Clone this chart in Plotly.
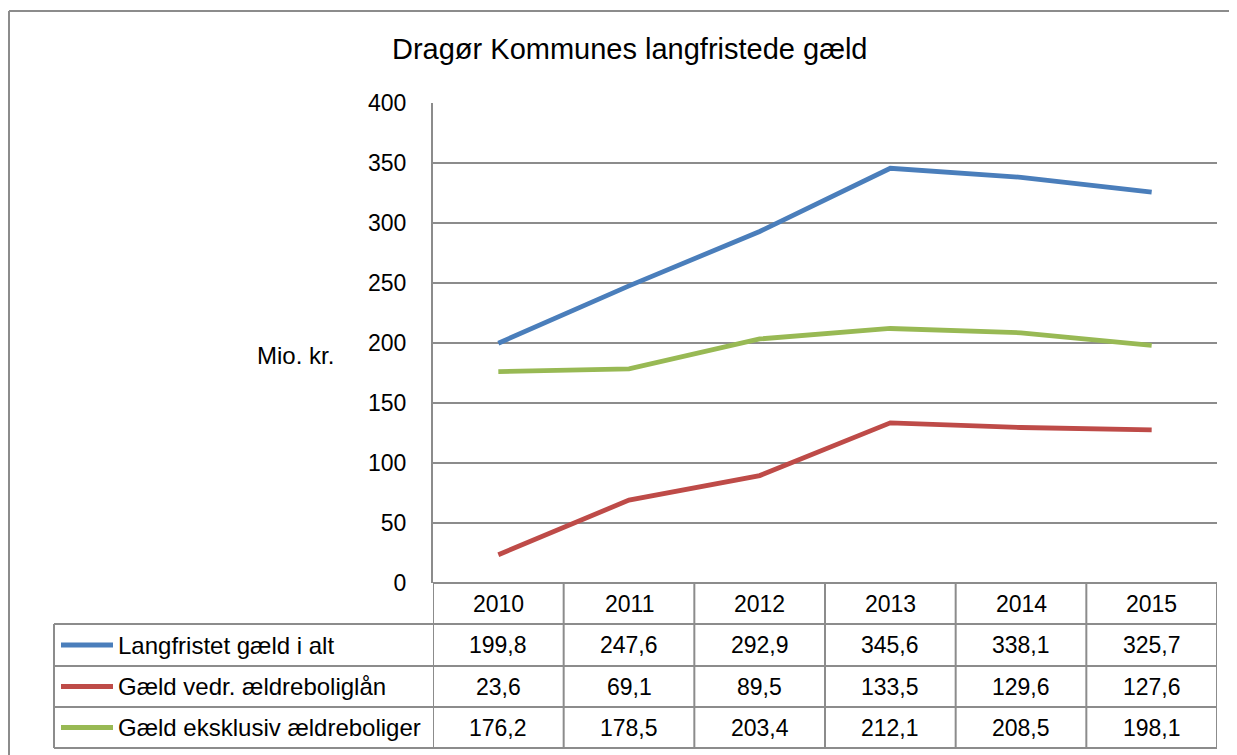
import plotly.graph_objects as go

years = ["2010", "2011", "2012", "2013", "2014", "2015"]
series_names = ["Langfristet gæld i alt", "Gæld vedr. ældreboliglån", "Gæld eksklusiv ældreboliger"]
total = [199.8, 247.6, 292.9, 345.6, 338.1, 325.7]
aeldre = [23.6, 69.1, 89.5, 133.5, 129.6, 127.6]
ekskl = [176.2, 178.5, 203.4, 212.1, 208.5, 198.1]
colors = ["#4A7EBB", "#BE4B48", "#98B954"]
title = "Dragør Kommunes langfristede gæld"
ytitle = "Mio. kr."

series = [total, aeldre, ekskl]
OFF = 8  # page body margin
W, H = 1237 - OFF, 755 - OFF
PX0, PX1, PY0, PY1 = 433, 1217, 103, 583  # plot area in screen px
L, T = PX0 - OFF, PY0 - OFF
R = (OFF + W) - PX1
B = (OFF + H) - PY1
pw, ph = PX1 - PX0, PY1 - PY0

def xp(x):
    return (x - PX0) / pw

def yp(y):
    return (PY1 - y) / ph

FONT = "Liberation Sans, Arial, sans-serif"
GRID = "#8c8c8c"

fig = go.Figure()
for name, vals, c in zip(series_names, series, colors):
    fig.add_trace(go.Scatter(x=list(range(len(years))), y=vals, mode="lines", name=name,
                             line=dict(color=c, width=4.8), showlegend=False,
                             hovertemplate=name + " %{y}<extra></extra>"))

shapes = []
annotations = []

# outer chart border: only top and left edges are visible in the frame
shapes.append(dict(type="line", xref="paper", yref="paper",
                   x0=xp(9), x1=xp(1240), y0=yp(11), y1=yp(11),
                   line=dict(color="#8c8c8c", width=2), layer="below"))
shapes.append(dict(type="line", xref="paper", yref="paper",
                   x0=xp(9), x1=xp(9), y0=yp(11), y1=yp(760),
                   line=dict(color="#8c8c8c", width=2), layer="below"))

row_edges = [583, 624, 666, 707, 748]
row_y = [yp(v) for v in row_edges]
left_x = xp(54)

for i in range(len(years) + 1):
    xv = i - 0.5
    shapes.append(dict(type="line", xref="x", yref="paper", x0=xv, x1=xv,
                       y0=row_y[0], y1=row_y[-1], line=dict(color=GRID, width=2)))
shapes.append(dict(type="line", xref="paper", yref="paper", x0=left_x, x1=left_x,
                   y0=row_y[1], y1=row_y[-1], line=dict(color=GRID, width=2)))
shapes.append(dict(type="line", xref="paper", yref="paper", x0=0, x1=1,
                   y0=row_y[0], y1=row_y[0], line=dict(color=GRID, width=2)))
for yv in row_y[1:]:
    shapes.append(dict(type="line", xref="paper", yref="paper", x0=left_x, x1=1,
                       y0=yv, y1=yv, line=dict(color=GRID, width=2)))

TS = 23
hy = (row_y[0] + row_y[1]) / 2
for i, yr in enumerate(years):
    annotations.append(dict(x=i, y=hy, xref="x", yref="paper", text=yr, showarrow=False,
                            font=dict(family=FONT, size=TS, color="black"),
                            xanchor="center", yanchor="middle"))

for r, (name, vals, c) in enumerate(zip(series_names, series, colors)):
    cy = (row_y[r + 1] + row_y[r + 2]) / 2
    shapes.append(dict(type="line", xref="paper", yref="paper",
                       x0=xp(61), x1=xp(113), y0=cy, y1=cy,
                       line=dict(color=c, width=5)))
    annotations.append(dict(x=xp(116), y=cy, xref="paper", yref="paper", text=name,
                            showarrow=False, xanchor="left", yanchor="middle",
                            font=dict(family=FONT, size=24, color="black")))
    for i, v in enumerate(vals):
        annotations.append(dict(x=i, y=cy, xref="x", yref="paper",
                                text=f"{v:.1f}".replace(".", ","), showarrow=False,
                                xanchor="center", yanchor="middle",
                                font=dict(family=FONT, size=TS, color="black")))

annotations.append(dict(x=xp(629), y=yp(49), xref="paper", yref="paper", text=title,
                        showarrow=False, xanchor="center", yanchor="middle",
                        font=dict(family=FONT, size=29, color="black")))
annotations.append(dict(x=xp(295), y=yp(355), xref="paper", yref="paper", text=ytitle,
                        showarrow=False, xanchor="center", yanchor="middle",
                        font=dict(family=FONT, size=24, color="black")))

fig.update_layout(
    width=W, height=H,
    margin=dict(l=L, r=R, t=T, b=B),
    paper_bgcolor="white", plot_bgcolor="white",
    shapes=shapes, annotations=annotations,
    showlegend=False,
)
fig.update_xaxes(range=[-0.5, 5.5], showticklabels=False,
                 showgrid=False, zeroline=False, showline=False, ticks="")
fig.update_yaxes(range=[0, 400], dtick=50, tick0=0, showgrid=True, gridcolor=GRID,
                 gridwidth=2, zeroline=False, showline=True, linecolor=GRID, linewidth=2,
                 ticks="", ticklabelstandoff=20,
                 tickfont=dict(family=FONT, size=23, color="black"))

fig.write_html("out.html")
